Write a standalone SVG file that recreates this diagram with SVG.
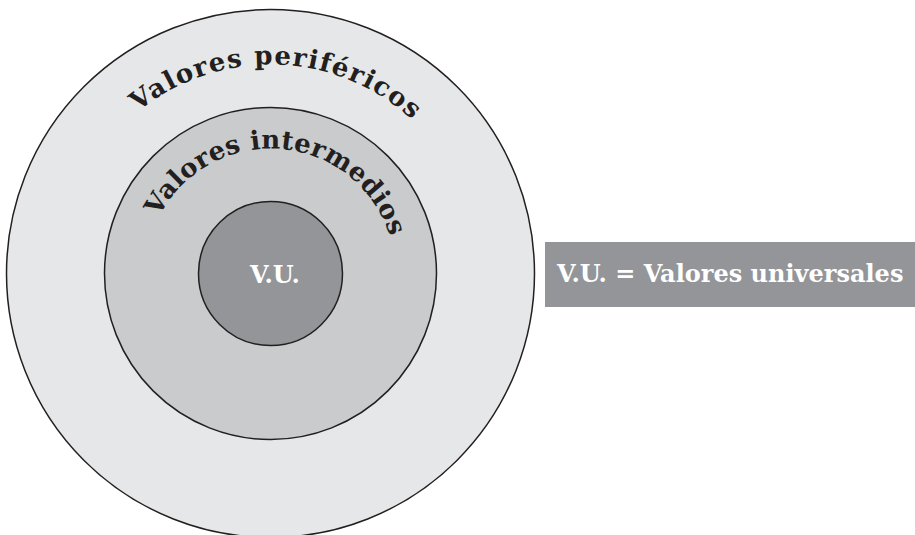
<svg xmlns="http://www.w3.org/2000/svg" width="915" height="535" viewBox="0 0 915 535">
<style>
.ring{stroke:#231f20;stroke-width:1.5}
.lbl{font-family:"DejaVu Serif","Liberation Serif",serif;font-weight:bold;fill:#231f20;font-size:26px}
.wt{font-family:"DejaVu Serif","Liberation Serif",serif;font-weight:bold;fill:#ffffff;font-size:24px}
</style>
<defs>
<path id="arcOuter" d="M 61.5 273.5 A 209 209 0 0 1 479.5 273.5"/>
<path id="arcMid" d="M 145.5 273.5 A 125 125 0 0 1 395.5 273.5"/>
</defs>
<rect width="915" height="535" fill="#ffffff"/>
<g id="outer">
<circle class="ring" cx="270.5" cy="273.5" r="264" fill="#e6e7e8"/>
<text class="lbl" text-anchor="middle" letter-spacing="1.4"><textPath href="#arcOuter" startOffset="335">Valores periféricos</textPath></text>
</g>
<g id="middle">
<circle class="ring" cx="270.5" cy="273.5" r="166" fill="#cacbcd"/>
<text class="lbl" text-anchor="middle" letter-spacing="0.3"><textPath href="#arcMid" startOffset="207">Valores intermedios</textPath></text>
</g>
<g id="inner">
<circle class="ring" cx="270.5" cy="273.5" r="72" fill="#939598"/>
<text class="wt" x="275" y="283" text-anchor="middle">V.U.</text>
</g>
<g id="legend">
<rect x="545" y="242" width="370" height="65" fill="#939598"/>
<text class="wt" x="557" y="282">V.U. = Valores universales</text>
</g>
<g id="connectors"/>
</svg>
